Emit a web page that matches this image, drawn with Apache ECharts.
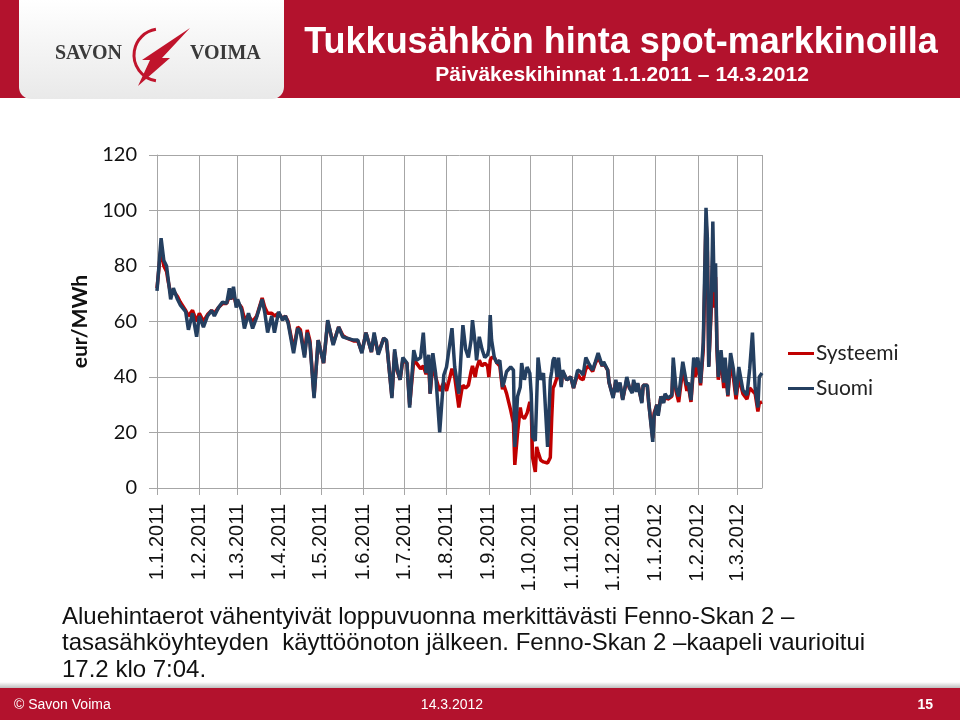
<!DOCTYPE html>
<html><head><meta charset="utf-8">
<script src="https://cdn.jsdelivr.net/npm/echarts@6/dist/echarts.min.js"></script>
<style>html,body{margin:0;padding:0;background:#fff}#c{width:960px;height:720px}</style>
</head><body><div id="c"></div>
<script>
// ---------------- DATA ----------------
const startDate = [2011, 0, 1];            // 1.1.2011
// days since 1.1.2011 for each read point
const dayOffsets = [0,3,5,7,8,10,12,15,17,21,23,26,29,31,34,37,40,42,45,48,51,53,54,56,58,59,62,64,67,70,73,77,79,81,84,86,89,92,94,96,100,103,105,108,110,112,115,118,122,125,129,133,136,139,144,147,150,153,157,159,162,166,168,172,174,176,178,180,183,185,188,190,193,195,197,199,200,202,204,207,210,212,216,218,221,223,224,226,228,230,231,233,234,236,238,240,242,243,244,245,247,249,251,253,254,256,259,261,262,264,266,267,269,271,273,274,275,277,278,279,281,283,286,288,289,290,291,293,294,296,297,300,303,305,308,310,312,314,316,319,321,323,326,327,330,331,334,336,337,339,341,344,346,348,349,351,352,355,356,359,360,363,364,366,367,369,371,372,374,377,378,380,382,385,388,389,391,393,394,396,398,400,401,402,403,404,406,407,408,409,410,411,413,415,416,418,420,422,424,426,429,430,432,434,436,438,440,441,443];
const suomi = [71,90,82,80,76,68,72,68,66,63.5,57,63,54.5,62,58,62,64,62,65,67,66.5,72,68,72.5,65,68,64,57.5,63,57.5,61.6,68,63,56,62,56,63.5,60.5,62,59.5,48.6,57.6,56,47,56,52,32.4,53.3,45,60.5,51.5,58,54.5,54,53.3,53.3,48.6,56,49,56,48,54,53.3,32.4,50,42.5,39,47,45,29,49.7,46,47,56,41.4,48,34,48.6,41.4,20,40.7,43.6,57.6,43.6,34,51,58.7,50,47,53.3,60.5,52,46,54.5,50,47,48,50,62.3,53.3,47,45,46,36.4,38,42,43.6,42.5,14.8,33,36.4,45,39,43.6,41.4,34,18.4,17,31.7,47,39,41.4,14.8,39,42,46,47,40,47,36.4,42.5,39,40,36,42.5,42,40.7,47,45,42.5,45.5,48.6,44,45.5,42.5,38,32.4,39,34.6,38,31.7,40,36,34.2,39,34.6,37.8,30.6,37,37,31,16.6,26,30,26,33,30.6,34,32.4,33.5,47,36,33,45.5,37,38,31.7,47,43.6,47,37.8,52.6,76.8,101,90,43.6,69.5,96,70.6,81,51.5,40,49.7,38,47,33.5,48.6,43,33.5,43.6,35.3,34.6,33.5,43,56,36,29,40,41.4];
const systeemi = [72,87,80,78,75,70,71,69,67,64,62,64,60,63,60,62.5,64,63,65,66.5,66.5,69,68,70,66,67,65,61,62,60,62,68.5,65,63,63,62,63,61,62,60,50,58,57,48,57,53,33,53.3,45,60,52,58,55,54,53,53,49,56,49,55,48.5,54,53,33,49,42,39,46,45,30,46,45,43,44,41,44,34,45,40,35,38,35,43,40,29,35,37,36,37,42,44,40,43,46,44,45,44,40,46,47,47,45,44,35.6,37,34,28,23.4,8.3,19.8,29,26,25,27,31,29,11,5.8,14.8,13,10,9.4,9,11,25,36,37,40,44,37,42,39,40,36,41,39.5,39,43,44,42,45,47,44,45,42.5,38,33,38.5,35,37.5,32,39,36,35,38,35,37.5,31,37,37,31,18,27,30,27,33,31,33.5,32,33,44,35,31,43,35,37,31,44,40,45,37,50,72,97,85,44,66,85,65,76,50,39,47,36,45,33,45,40,32,40,34,34,32,36,35,34,27.6,30.6,31];
const seriesNames = ['Systeemi', 'Suomi'];
const yMin = 0, yMax = 120, yStep = 20;
const titleText = 'Tukkusähkön hinta spot-markkinoilla';
const subtitleText = 'Päiväkeskihinnat 1.1.2011 – 14.3.2012';
const bodyLines = [
  'Aluehintaerot vähentyivät loppuvuonna merkittävästi Fenno-Skan 2 –',
  'tasasähköyhteyden  käyttöönoton jälkeen. Fenno-Skan 2 –kaapeli vaurioitui',
  '17.2 klo 7:04.'
];
const footerLeft = '© Savon Voima', footerMid = '14.3.2012', footerRight = '15';

// ---------------- BUILD ----------------
const DAY = 86400000;
const t0 = new Date(startDate[0], startDate[1], startDate[2]).getTime();
const ts = dayOffsets.map(d => new Date(startDate[0], startDate[1], startDate[2] + d).getTime());
const dataSys = ts.map((t, i) => [t, systeemi[i]]);
const dataSuo = ts.map((t, i) => [t, suomi[i]]);

const RED = '#b3122d';
const GRID = '#a6a6a6';
const chart = echarts.init(document.getElementById('c'), null, {renderer: 'canvas'});
const fmtDate = v => { const d = new Date(v); return d.getDate() + '.' + (d.getMonth() + 1) + '.' + d.getFullYear(); };

chart.setOption({
  animation: false,
  backgroundColor: '#fff',
  grid: {left: 157, right: 198, top: 155, bottom: 232},
  legend: {
    orient: 'vertical', left: 783, top: 338, itemWidth: 26, itemHeight: 3, itemGap: 14,
    icon: 'rect',
    textStyle: {fontFamily: 'Lato', fontSize: 21, color: '#222', padding: [0,0,0,-3]},
    data: seriesNames
  },
  xAxis: {
    type: 'time', min: t0, max: ts[ts.length - 1],
    minInterval: 28 * DAY, maxInterval: 31 * DAY, splitNumber: 15,
    axisLine: {lineStyle: {color: GRID, width: 1}},
    axisTick: {show: true, length: 7, lineStyle: {color: GRID}},
    splitLine: {show: true, lineStyle: {color: GRID, width: 1}},
    axisLabel: {
      rotate: 90, margin: 16, color: '#111', fontFamily: 'Liberation Sans', fontSize: 20,
      showMinLabel: true, showMaxLabel: false, hideOverlap: false,
      formatter: fmtDate
    }
  },
  yAxis: {
    type: 'value', min: yMin, max: yMax, interval: yStep,
    name: 'eur/MWh', nameLocation: 'middle', nameRotate: 90, nameGap: 66,
    nameTextStyle: {fontFamily: 'Lato', fontWeight: 'bold', fontSize: 21, color: '#111'},
    axisLine: {show: true, lineStyle: {color: GRID}},
    axisTick: {show: true, length: 8, lineStyle: {color: GRID}},
    splitLine: {show: true, lineStyle: {color: GRID, width: 1}},
    axisLabel: {margin: 20, color: '#111', fontFamily: 'Lato', fontSize: 20}
  },
  series: [
    {name: seriesNames[0], type: 'line', data: dataSys, showSymbol: false, symbol: 'none',
     lineStyle: {color: '#c00000', width: 3.5}, itemStyle: {color: '#c00000'}, z: 2},
    {name: seriesNames[1], type: 'line', data: dataSuo, showSymbol: false, symbol: 'none',
     lineStyle: {color: '#243f60', width: 3.5}, itemStyle: {color: '#243f60'}, z: 3}
  ],
  graphic: [
    // header band
    {type: 'rect', shape: {x: 0, y: 0, width: 960, height: 98}, style: {fill: RED}, z: -1},
    {type: 'rect', shape: {x: 19, y: 0, width: 265, height: 99, r: [0, 0, 12, 12]},
     style: {fill: new echarts.graphic.LinearGradient(0, 0, 0, 1, [{offset: 0, color: '#ffffff'}, {offset: 1, color: '#e9e9e9'}])}, z: 0},
    // logo
    {type: 'text', left: 55, top: 44, style: {text: 'SAVON', fill: '#3a3a3a', font: 'bold 20px "Liberation Serif"'}, z: 1},
    {type: 'text', left: 190, top: 44, style: {text: 'VOIMA', fill: '#3a3a3a', font: 'bold 20px "Liberation Serif"'}, z: 1},
    {type: 'arc', shape: {cx: 160, cy: 55, r: 26, startAngle: Math.PI * 0.55, endAngle: Math.PI * 1.45}, style: {stroke: '#c0142c', lineWidth: 3, fill: null}, z: 1},
    {type: 'polygon', shape: {points: [[190, 28], [162, 58], [170, 58], [138, 86], [150, 60], [142, 60]]}, style: {fill: '#c0142c'}, z: 1},
    // titles
    {type: 'text', x: 621, y: 43, style: {text: titleText, fill: '#fff', font: 'bold 36px "Liberation Sans"', align: 'center', verticalAlign: 'middle'}, z: 1},
    {type: 'text', x: 622, y: 75, style: {text: subtitleText, fill: '#fff', font: 'bold 21px "Liberation Sans"', align: 'center', verticalAlign: 'middle'}, z: 1},
    // body text
    {type: 'text', x: 62, y: 617, style: {text: bodyLines[0], fill: '#111', font: '24px "Liberation Sans"', verticalAlign: 'middle'}},
    {type: 'text', x: 62, y: 643, style: {text: bodyLines[1], fill: '#111', font: '24px "Liberation Sans"', verticalAlign: 'middle'}},
    {type: 'text', x: 62, y: 670, style: {text: bodyLines[2], fill: '#111', font: '24px "Liberation Sans"', verticalAlign: 'middle'}},
    // footer
    {type: 'rect', shape: {x: 0, y: 682, width: 960, height: 6},
     style: {fill: new echarts.graphic.LinearGradient(0, 0, 0, 1, [{offset: 0, color: 'rgba(0,0,0,0)'}, {offset: 1, color: 'rgba(0,0,0,0.25)'}])}},
    {type: 'rect', shape: {x: 0, y: 688, width: 960, height: 32}, style: {fill: RED}},
    {type: 'text', x: 14, y: 705, style: {text: footerLeft, fill: '#fff', font: '14px "Liberation Sans"', verticalAlign: 'middle'}},
    {type: 'text', x: 452, y: 705, style: {text: footerMid, fill: '#fff', font: '14px "Liberation Sans"', align: 'center', verticalAlign: 'middle'}},
    {type: 'text', x: 933, y: 705, style: {text: footerRight, fill: '#fff', font: 'bold 14px "Liberation Sans"', align: 'right', verticalAlign: 'middle'}}
  ]
});
</script></body></html>
